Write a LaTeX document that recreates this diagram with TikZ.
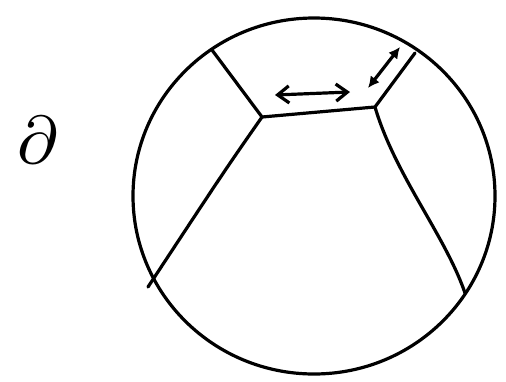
\documentclass[tikz,border=0pt]{standalone}
\usepackage{amsmath,amssymb}
\usepackage{graphicx}
\usetikzlibrary{arrows.meta}

\begin{document}
\begin{tikzpicture}[x=1pt, y=-1pt, line width=3.2pt, line cap=round, line join=round,
	every node/.style={font=\small}, >={Straight Barb[length=4mm, width=6mm]}]
	\useasboundingbox (0,0) rectangle (506,381);
	% the ball
	\draw (314,196) ellipse [x radius=181, y radius=178];
	\node (bdry) at (38,140) {\scalebox{7.5}{$\partial$}};
	% corners of the patch
	\coordinate (tl) at (212,50);
	\coordinate (tr) at (415,53);
	\coordinate (il) at (262,117);
	\coordinate (ir) at (375,107);
	\coordinate (bl) at (148,287);
	\coordinate (br) at (465,293);
	\draw (tl) -- (il) -- (ir) -- (tr);
	\draw (il) .. controls (225,170) .. (bl);
	\draw (ir) .. controls (395,175) and (445,235) .. (br);
	% the two arrows
	\coordinate (hl) at (275,95);
	\coordinate (hr) at (350,92);
	\draw[<->] (hl) -- (hr);
	\coordinate (dl) at (368,88);
	\coordinate (du) at (400,47);
	\draw[<->, >={Latex[length=4mm, width=4mm]}] (dl) -- (du);
\end{tikzpicture}
\end{document}
